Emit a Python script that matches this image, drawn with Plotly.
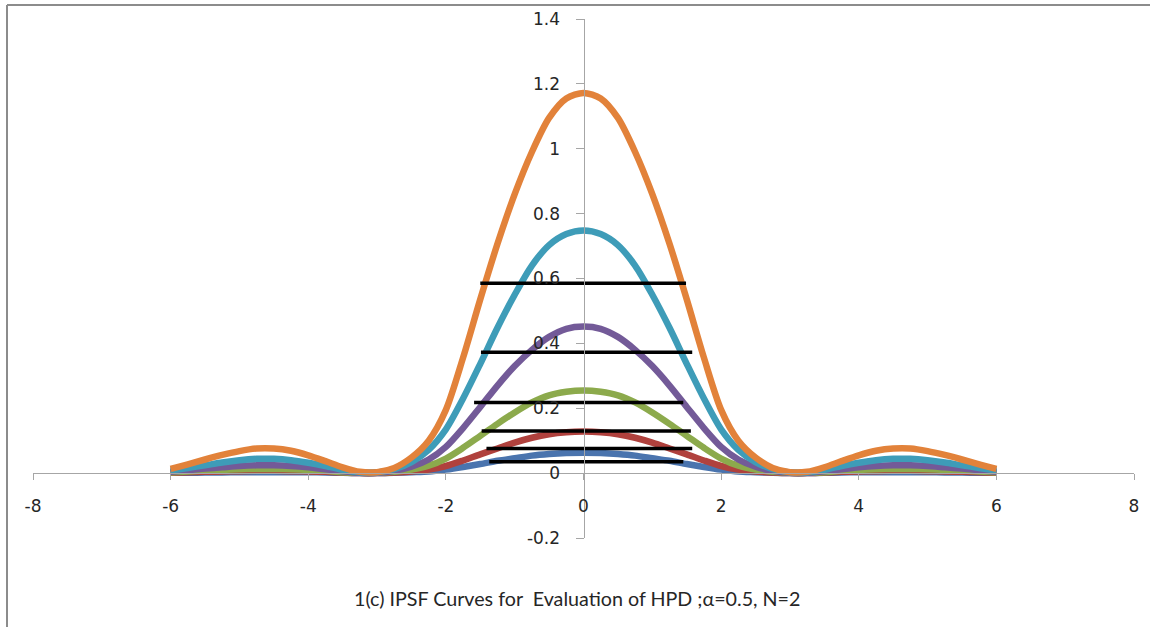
import plotly.graph_objects as go

# ---- data ----
x_vals = [-6.0, -5.75, -5.5, -5.25, -5.0, -4.75, -4.5, -4.25, -4.0, -3.75, -3.5, -3.25,
          -3.0, -2.75, -2.5, -2.25, -2.0, -1.75, -1.5, -1.25, -1.0, -0.75, -0.5, -0.25,
          0.0,
          0.25, 0.5, 0.75, 1.0, 1.25, 1.5, 1.75, 2.0, 2.25, 2.5, 2.75, 3.0,
          3.25, 3.5, 3.75, 4.0, 4.25, 4.5, 4.75, 5.0, 5.25, 5.5, 5.75, 6.0]

orange = [0.013, 0.027, 0.042, 0.056, 0.068, 0.076, 0.076, 0.069, 0.055, 0.037, 0.018, 0.004,
          0.003, 0.016, 0.048, 0.100, 0.195, 0.356, 0.536, 0.707, 0.860, 0.990, 1.095, 1.155,
          1.172,
          1.155, 1.095, 0.990, 0.860, 0.707, 0.536, 0.356, 0.195, 0.100, 0.048, 0.016, 0.003,
          0.004, 0.018, 0.037, 0.055, 0.069, 0.076, 0.076, 0.068, 0.056, 0.042, 0.027, 0.013]
teal = [0.008, 0.016, 0.024, 0.033, 0.040, 0.044, 0.044, 0.040, 0.032, 0.022, 0.010, 0.002,
        0.002, 0.012, 0.034, 0.072, 0.135, 0.230, 0.337, 0.448, 0.550, 0.640, 0.703, 0.737,
        0.748,
        0.737, 0.703, 0.640, 0.550, 0.448, 0.337, 0.230, 0.135, 0.072, 0.034, 0.012, 0.002,
        0.002, 0.010, 0.022, 0.032, 0.040, 0.044, 0.044, 0.040, 0.033, 0.024, 0.016, 0.008]
purple = [0.004, 0.009, 0.014, 0.018, 0.022, 0.024, 0.024, 0.022, 0.018, 0.012, 0.006, 0.001,
          0.001, 0.007, 0.020, 0.042, 0.081, 0.139, 0.204, 0.270, 0.330, 0.380, 0.420, 0.445,
          0.452,
          0.445, 0.420, 0.380, 0.330, 0.270, 0.204, 0.139, 0.081, 0.042, 0.020, 0.007, 0.001,
          0.001, 0.006, 0.012, 0.018, 0.022, 0.024, 0.024, 0.022, 0.018, 0.014, 0.009, 0.004]
green = [0.002, 0.005, 0.008, 0.010, 0.012, 0.013, 0.013, 0.012, 0.010, 0.007, 0.003, 0.001,
         0.001, 0.004, 0.011, 0.023, 0.045, 0.078, 0.115, 0.152, 0.187, 0.218, 0.240, 0.251,
         0.255,
         0.251, 0.240, 0.218, 0.187, 0.152, 0.115, 0.078, 0.045, 0.023, 0.011, 0.004, 0.001,
         0.001, 0.003, 0.007, 0.010, 0.012, 0.013, 0.013, 0.012, 0.010, 0.008, 0.005, 0.002]
red = [0.001, 0.003, 0.004, 0.005, 0.006, 0.007, 0.007, 0.006, 0.005, 0.004, 0.002, 0.000,
       0.000, 0.002, 0.005, 0.011, 0.022, 0.039, 0.058, 0.076, 0.094, 0.109, 0.120, 0.126,
       0.128,
       0.126, 0.120, 0.109, 0.094, 0.076, 0.058, 0.039, 0.022, 0.011, 0.005, 0.002, 0.000,
       0.000, 0.002, 0.004, 0.005, 0.006, 0.007, 0.007, 0.006, 0.005, 0.004, 0.003, 0.001]
blue = [0.001, 0.001, 0.002, 0.002, 0.003, 0.003, 0.003, 0.003, 0.003, 0.002, 0.001, 0.000,
        0.000, 0.001, 0.003, 0.005, 0.011, 0.019, 0.028, 0.038, 0.046, 0.054, 0.059, 0.062,
        0.063,
        0.062, 0.059, 0.054, 0.046, 0.038, 0.028, 0.019, 0.011, 0.005, 0.003, 0.001, 0.000,
        0.000, 0.001, 0.002, 0.003, 0.003, 0.003, 0.003, 0.003, 0.002, 0.002, 0.001, 0.001]

series_names = ["Series1", "Series2", "Series3", "Series4", "Series5", "Series6"]
series_values = [blue, red, green, purple, teal, orange]
series_colors = ["#4A74AE", "#B0413D", "#8CAA4C", "#735A98", "#3E9CB8", "#E2823A"]

# HPD horizontal levels (from top to bottom)
hpd_level = [0.585, 0.373, 0.2175, 0.130, 0.076, 0.035]
hpd_left = [-1.50, -1.49, -1.59, -1.48, -1.41, -1.37]
hpd_right = [1.49, 1.58, 1.45, 1.56, 1.58, 1.45]

x_tickvals = [-8, -6, -4, -2, 0, 2, 4, 6, 8]
x_ticktext = ["-8", "-6", "-4", "-2", "0", "2", "4", "6", "8"]
y_tickvals = [-0.2, 0, 0.2, 0.4, 0.6, 0.8, 1.0, 1.2, 1.4]
y_ticktext = ["-0.2", "0", "0.2", "0.4", "0.6", "0.8", "1", "1.2", "1.4"]

caption = "1(c) IPSF Curves for  Evaluation of HPD ;\u03b1=0.5, N=2"

# ---- figure ----
fig = go.Figure()
for name, vals, col in zip(series_names, series_values, series_colors):
    fig.add_trace(go.Scatter(x=x_vals, y=vals, mode="lines", name=name,
                             line=dict(color=col, width=6.5, shape="spline", smoothing=0.8)))

for lv, xl, xr in zip(hpd_level, hpd_left, hpd_right):
    fig.add_trace(go.Scatter(x=[xl, xr], y=[lv, lv], mode="lines",
                             line=dict(color="#000000", width=3.5), showlegend=False))

W, H = 1150, 627
ml, mr, mt, mb = 33, 16, 19, 89
pw = W - ml - mr
ph = H - mt - mb

tick_font = dict(family="DejaVu Sans", size=17, color="#262626")

fig.update_layout(
    width=W, height=H,
    margin=dict(l=ml, r=mr, t=mt, b=mb, autoexpand=False),
    paper_bgcolor="white", plot_bgcolor="white",
    showlegend=False,
    font=dict(family="DejaVu Sans", size=17, color="#262626"),
    xaxis=dict(range=[-8, 8], tickvals=x_tickvals, ticktext=x_ticktext, tickfont=tick_font,
               showgrid=False, zeroline=False, showline=True, linecolor="#A6A6A6", linewidth=1,
               ticks="outside", ticklen=6, tickcolor="#A6A6A6", automargin=False,
               anchor="free", position=0.125, ticklabelstandoff=11),
    yaxis=dict(range=[-0.2, 1.4], tickvals=y_tickvals, ticktext=y_ticktext, tickfont=tick_font,
               showgrid=False, zeroline=False, showline=True, linecolor="#A6A6A6", linewidth=1,
               ticks="outside", ticklen=8, tickcolor="#A6A6A6", automargin=False,
               anchor="free", position=0.5, ticklabelstandoff=12),
)

# chart border (Excel chart area outline, cut off at right and bottom)
left_px, top_px = 7, 5
xb = (left_px - ml) / pw
yb = (H - mb - top_px) / ph
fig.add_shape(type="line", xref="paper", yref="paper", x0=xb, x1=(W + 10 - ml) / pw,
              y0=yb, y1=yb, line=dict(color="#8C8C8C", width=2))
fig.add_shape(type="line", xref="paper", yref="paper", x0=xb, x1=xb,
              y0=yb, y1=(H - mb - H - 10) / ph, line=dict(color="#8C8C8C", width=2))

fig.add_annotation(text=caption, xref="paper", yref="paper",
                   x=(577 - ml) / pw, y=(H - mb - 598) / ph, xanchor="center", yanchor="middle",
                   showarrow=False, font=dict(family="Lato", size=19.7, color="#262626"))

fig.write_html("out.html",
               config={"displayModeBar": False},
               post_script="document.body.style.margin='0';document.body.style.overflow='hidden';")
